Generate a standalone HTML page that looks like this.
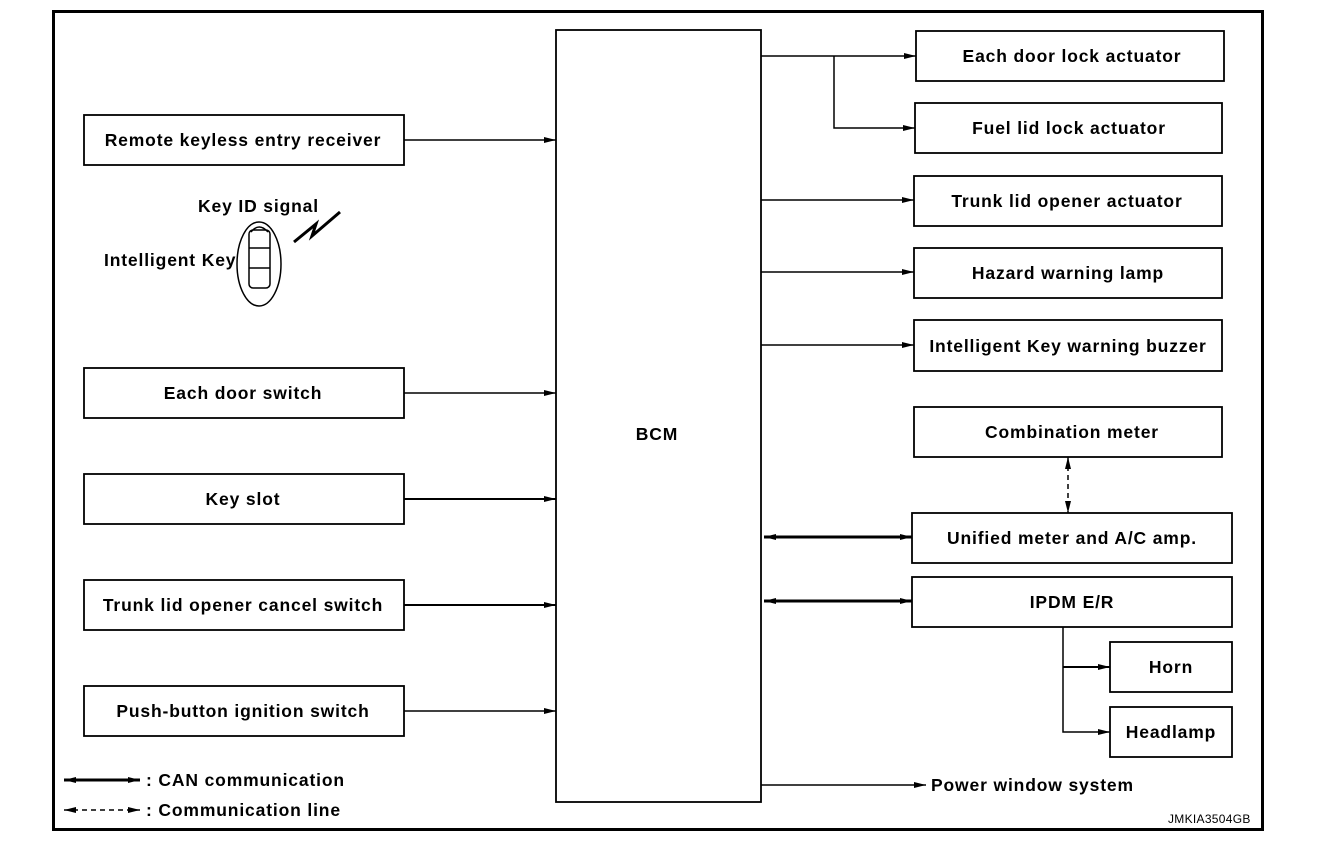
<!DOCTYPE html>
<html><head><style>
body{margin:0;background:#fff;}
svg text{font-family:"Liberation Sans",Arial,sans-serif;font-size:17.5px;fill:#000;font-weight:bold;letter-spacing:0.85px;}
</style></head><body>
<svg width="1328" height="854" viewBox="0 0 1328 854" xmlns="http://www.w3.org/2000/svg">
<defs>
<marker id="a" markerWidth="12" markerHeight="8" refX="12" refY="4" orient="auto" markerUnits="userSpaceOnUse"><path d="M0,1 L12,4 L0,7 Z" fill="#000"/></marker>
<marker id="as" markerWidth="12" markerHeight="8" refX="0" refY="4" orient="auto" markerUnits="userSpaceOnUse"><path d="M12,1 L0,4 L12,7 Z" fill="#000"/></marker>
</defs>
<rect x="53.5" y="11.5" width="1209" height="818" fill="none" stroke="#000" stroke-width="3"/>
<g fill="none" stroke="#000" stroke-width="1.8">
<rect x="84" y="115" width="320" height="50"/>
<rect x="84" y="368" width="320" height="50"/>
<rect x="84" y="474" width="320" height="50"/>
<rect x="84" y="580" width="320" height="50"/>
<rect x="84" y="686" width="320" height="50"/>
<rect x="556" y="30" width="205" height="772"/>
<rect x="916" y="31" width="308" height="50"/>
<rect x="915" y="103" width="307" height="50"/>
<rect x="914" y="176" width="308" height="50"/>
<rect x="914" y="248" width="308" height="50"/>
<rect x="914" y="320" width="308" height="51"/>
<rect x="914" y="407" width="308" height="50"/>
<rect x="912" y="513" width="320" height="50"/>
<rect x="912" y="577" width="320" height="50"/>
<rect x="1110" y="642" width="122" height="50"/>
<rect x="1110" y="707" width="122" height="50"/>
</g>
<g stroke="#000" stroke-width="1.5" fill="none">
<line x1="404" y1="140" x2="556" y2="140" marker-end="url(#a)"/>
<line x1="404" y1="393" x2="556" y2="393" marker-end="url(#a)"/>
<line x1="404" y1="499" x2="556" y2="499" marker-end="url(#a)" stroke-width="2"/>
<line x1="404" y1="605" x2="556" y2="605" marker-end="url(#a)" stroke-width="2"/>
<line x1="404" y1="711" x2="556" y2="711" marker-end="url(#a)"/>
<line x1="761" y1="56" x2="916" y2="56" marker-end="url(#a)"/>
<polyline points="834,56 834,128 915,128" marker-end="url(#a)"/>
<line x1="761" y1="200" x2="914" y2="200" marker-end="url(#a)"/>
<line x1="761" y1="272" x2="914" y2="272" marker-end="url(#a)"/>
<line x1="761" y1="345" x2="914" y2="345" marker-end="url(#a)"/>
<line x1="761" y1="785" x2="926" y2="785" marker-end="url(#a)"/>
<line x1="764" y1="537" x2="912" y2="537" stroke-width="3" marker-start="url(#as)" marker-end="url(#a)"/>
<line x1="764" y1="601" x2="912" y2="601" stroke-width="3" marker-start="url(#as)" marker-end="url(#a)"/>
<line x1="1068" y1="457" x2="1068" y2="513" stroke-dasharray="5,4" marker-start="url(#as)" marker-end="url(#a)"/>
<polyline points="1063,627 1063,732 1110,732" marker-end="url(#a)"/>
<line x1="1063" y1="667" x2="1110" y2="667" marker-end="url(#a)" stroke-width="2"/>
<line x1="64" y1="780" x2="140" y2="780" stroke-width="3" marker-start="url(#as)" marker-end="url(#a)"/>
<line x1="64" y1="810" x2="140" y2="810" stroke-dasharray="5,4" marker-start="url(#as)" marker-end="url(#a)"/>
<ellipse cx="259" cy="264" rx="22" ry="42"/>
<rect x="249" y="230" width="21" height="58" rx="4"/>
<line x1="249" y1="248" x2="270" y2="248"/><line x1="249" y1="268" x2="270" y2="268"/>
<path d="M251,232 Q259,222 268,232"/>
<path d="M294,242 L316,224 L312,236 L340,212" stroke-width="3"/>
</g>
<g text-anchor="middle">
<text x="243" y="146">Remote keyless entry receiver</text>
<text x="243" y="399">Each door switch</text>
<text x="243" y="505">Key slot</text>
<text x="243" y="611">Trunk lid opener cancel switch</text>
<text x="243" y="717">Push-button ignition switch</text>
<text x="657" y="440">BCM</text>
<text x="1072" y="62">Each door lock actuator</text>
<text x="1069" y="134">Fuel lid lock actuator</text>
<text x="1067" y="207">Trunk lid opener actuator</text>
<text x="1068" y="279">Hazard warning lamp</text>
<text x="1068" y="352">Intelligent Key warning buzzer</text>
<text x="1072" y="438">Combination meter</text>
<text x="1072" y="544">Unified meter and A/C amp.</text>
<text x="1072" y="608">IPDM E/R</text>
<text x="1171" y="673">Horn</text>
<text x="1171" y="738">Headlamp</text>
</g>
<text x="198" y="212">Key ID signal</text>
<text x="104" y="266">Intelligent Key</text>
<text x="931" y="791">Power window system</text>
<text x="146" y="786">: CAN communication</text>
<text x="146" y="816">: Communication line</text>
<text x="1168" y="823" style="font-size:12px;font-weight:normal;letter-spacing:0.3px">JMKIA3504GB</text>
</svg>
</body></html>
